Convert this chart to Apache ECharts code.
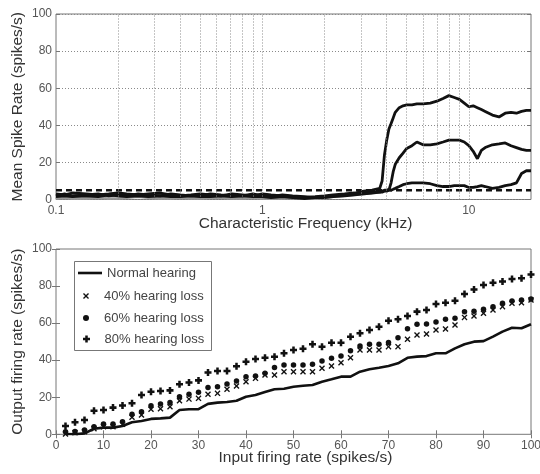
<!DOCTYPE html>
<html>
<head>
<meta charset="utf-8">
<script src="https://cdn.jsdelivr.net/npm/echarts@6/dist/echarts.min.js"></script>
<style>
  html, body { margin: 0; padding: 0; background: #fff; }
  #chart { width: 540px; height: 474px; }
</style>
</head>
<body>
<div id="chart"></div>
<script>
// ---- Upper panel: mean spike rate across characteristic frequency (kHz) ----
const cfFreq = [0.1, 0.11, 0.12, 0.14, 0.16, 0.18, 0.2, 0.22, 0.25, 0.28,
  0.32, 0.36, 0.4, 0.45, 0.5, 0.56, 0.63, 0.71, 0.8, 0.9,
  1.0, 1.1, 1.25, 1.4, 1.6, 1.8, 2.0, 2.2, 2.5, 2.8,
  3.1, 3.4, 3.7, 3.8, 3.9, 4.0, 4.1, 4.2, 4.3, 4.4,
  4.6, 4.8, 5.0, 5.3, 5.6, 6.0, 6.5, 7.0, 7.5, 8.0,
  8.5, 9.0, 9.5, 10, 10.5, 11, 11.5, 12, 13, 14,
  15, 16, 17, 18, 19, 20];

const rateHigh = [3, 2.5, 3.5, 3, 2.5, 3, 3.5, 3, 2.5, 3,
  3.5, 2.5, 2, 2.5, 3, 2.5, 2, 3, 2.5, 2,
  3, 2.5, 2, 1.5, 1, 1.5, 2, 2.5, 3, 3.5,
  4.5, 5, 6, 10, 24, 32, 38, 41, 44, 47,
  49.5, 50.5, 51, 51, 51.5, 51.5, 52, 53, 54.5, 56,
  55, 54, 52, 50, 50.5, 49.5, 48.5, 47.5, 45.5, 44.5,
  46.5, 47, 46.5, 47.5, 48, 48];

const rateMid = [2, 3, 2, 2.5, 3, 2, 2.5, 2, 3, 2.5,
  2, 3, 2.5, 2, 2, 3, 2.5, 2, 2, 3,
  2, 1.5, 2.5, 2, 1.5, 1, 1.5, 2, 2.5, 3,
  3.5, 4, 4, 4, 4.5, 4.5, 5, 9, 15, 19,
  22.5, 25, 27.5, 29, 31, 29.5, 29.5, 30, 31, 32,
  32, 32, 31, 29, 26, 22, 26.5, 28, 29.5, 30,
  30.5, 29, 28, 27, 26.5, 26.5];

const rateLow = [1.5, 2, 1.5, 2, 1.5, 2.5, 2, 1.5, 2, 1.5,
  2, 1.5, 1.5, 2, 1.5, 1.5, 2, 1.5, 2, 1.5,
  1.5, 1, 1.5, 1, 0.5, 1, 1, 1.5, 2, 2.5,
  3, 3.5, 4, 4.5, 5, 5, 5.5, 5, 5.5, 6,
  7, 8, 8.5, 9, 9, 9, 8.5, 7.5, 7, 7,
  7.5, 7.5, 7.5, 6.5, 6.5, 7, 7.5, 7, 6, 6.5,
  7.5, 8, 9, 14, 15.5, 15.5];

const rateGrey = [0.5, 1, 0.5, 0.5, 1, 0.5, 0.5, 1, 1.5, 1,
  0.5, 0.5, 1, 0.5, 0.5, 1, 1, 0.5, 0.5, 1,
  0.5, 0.5, 0.5, 1, 0.5, 0.5, 1, 1.5, 2, 2.5,
  3, 3.5];

const thresholdFreq = [0.1, 20];
const thresholdRate = [5, 5];

// dotted vertical grid at every decade subdivision
const gridFreqs = [0.2, 0.3, 0.4, 0.5, 0.6, 0.7, 0.8, 0.9, 1,
  2, 3, 4, 5, 6, 7, 8, 9, 10];

// ---- Lower panel: output vs input firing rate ----
const inputRate = [2, 4, 6, 8, 10, 12, 14, 16, 18, 20,
  22, 24, 26, 28, 30, 32, 34, 36, 38, 40,
  42, 44, 46, 48, 50, 52, 54, 56, 58, 60,
  62, 64, 66, 68, 70, 72, 74, 76, 78, 80,
  82, 84, 86, 88, 90, 92, 94, 96, 98, 100];

const normalOut = [0.2, 0, 0.5, 3, 3.6, 3.6, 4.5, 6.5, 7.2, 8.3,
  8.6, 9, 13.1, 13.5, 13.6, 16.4, 17.1, 17.4, 18.1, 20.3,
  21.2, 22.8, 24.3, 24.6, 25.7, 26.2, 26.6, 28.4, 29.7, 31.1,
  31.1, 33.8, 35.1, 35.9, 36.9, 38.3, 41.3, 41.9, 42.2, 43.7,
  43.7, 46.4, 48.6, 50, 50.3, 52.7, 55.4, 57.5, 57.2, 59.4];

const loss40Out = [0.2, 0.9, 1.4, 3, 4.1, 4.1, 5.4, 9.2, 10.4, 13.5,
  13.8, 14.9, 18.1, 19, 19.4, 21.6, 22.1, 24.3, 26.1, 28.4,
  30.2, 32, 32, 33.8, 33.8, 33.8, 33.8, 35.6, 36.9, 38.6,
  41.3, 45.5, 45.5, 45.5, 47.3, 47.3, 51.3, 53.6, 54.1, 56.3,
  56.8, 59, 63.1, 63.8, 65.3, 67.1, 68.9, 70.7, 71, 72.5];

const loss60Out = [1.4, 1.5, 2.3, 4.1, 5.6, 5.6, 6.8, 10.8, 12.2, 15.4,
  16.4, 17.1, 20.3, 21.6, 22.7, 25.2, 25.7, 27.1, 28.8, 31.1,
  31.5, 32.9, 36.1, 37.4, 37.4, 37.4, 37.8, 39.6, 41, 42.3,
  45.1, 47.6, 48.6, 48.6, 49.6, 52.1, 57, 59.4, 59.5, 60.6,
  62.1, 62.6, 66.2, 66.4, 67.5, 68.9, 70.7, 71.9, 72.5, 73];

const loss80Out = [4.5, 6.5, 7.7, 12.7, 13.1, 14.4, 15.6, 16.7, 21.2, 23,
  23.4, 23.7, 27, 27.9, 29.1, 33.4, 34.2, 34.2, 36.7, 39.2,
  40.6, 41.3, 41.9, 43.7, 45.5, 46.2, 48.6, 47.3, 49.4, 49.4,
  52.7, 54.5, 56.3, 58.1, 61.3, 62.1, 63.8, 66.2, 67.1, 70.3,
  71, 72.1, 75.7, 78.2, 80.6, 81.8, 82.4, 83.8, 84.2, 86.3];

const seriesNames = ['Normal hearing', '40% hearing loss', '60% hearing loss', '80% hearing loss'];

// ---- styling ----
const FONT = 'Liberation Sans, Arial, Helvetica, sans-serif';
const INK = '#111';
const TICK_TEXT = '#555';
const TITLE_TEXT = '#333';
const FRAME = '#777';

const SYMBOL_X = 'path://M0,1.6L1.6,0L5,3.4L8.4,0L10,1.6L6.6,5L10,8.4L8.4,10L5,6.6L1.6,10L0,8.4L3.4,5Z';
const SYMBOL_PLUS = 'path://M3.2,0H6.8V3.2H10V6.8H6.8V10H3.2V6.8H0V3.2H3.2Z';

function pairs(xs, ys) {
  const out = [];
  for (let i = 0; i < ys.length; i++) out.push([xs[i], ys[i]]);
  return out;
}

const tickLabel = { fontFamily: FONT, fontSize: 12, color: TICK_TEXT };
const nameStyle = { fontFamily: FONT, fontSize: 15.5, color: TITLE_TEXT };
const xNameStyle = Object.assign({}, nameStyle, { padding: [0, 0, 0, 24] });
const legendText = { fontFamily: FONT, fontSize: 13, color: '#444', lineHeight: 14 };

function mirrorY(gridIndex) {
  return {
    gridIndex, type: 'value', position: 'right', min: 0, max: 100, interval: 20,
    axisLine: { show: false }, axisLabel: { show: false }, splitLine: { show: false },
    axisTick: { show: true, inside: true, length: 4, lineStyle: { color: FRAME } }
  };
}

const chart = echarts.init(document.getElementById('chart'), null, { renderer: 'canvas' });

const option = {
  animation: false,
  backgroundColor: '#fff',
  grid: [
    { left: 56, top: 14, right: 9, height: 185.5, outerBoundsMode: 'none', containLabel: false,
      show: true, borderColor: FRAME, borderWidth: 1, backgroundColor: 'transparent' },
    { left: 56, top: 249, right: 9, height: 185.3, outerBoundsMode: 'none', containLabel: false,
      show: true, borderColor: FRAME, borderWidth: 1, backgroundColor: 'transparent' }
  ],
  xAxis: [
    {
      gridIndex: 0, type: 'log', logBase: 10, min: 0.1, max: 20,
      axisLine: { show: false }, axisTick: { show: false }, splitLine: { show: false },
      axisLabel: Object.assign({}, tickLabel, {
        margin: 5,
        formatter: function (v) {
          const e = Math.log10(v);
          if (Math.abs(e - Math.round(e)) > 1e-6) return '';
          const r = Math.round(e);
          return r === -1 ? '0.1' : r === 0 ? '1' : r === 1 ? '10' : '';
        }
      }),
      name: 'Characteristic Frequency (kHz)', nameLocation: 'middle', nameGap: 16,
      nameMoveOverlap: false, nameTextStyle: xNameStyle
    },
    {
      gridIndex: 1, type: 'value', min: 0, max: 100, interval: 10,
      axisLine: { show: false }, splitLine: { show: false },
      axisTick: { show: true, inside: true, length: 4, lineStyle: { color: FRAME } },
      axisLabel: Object.assign({}, tickLabel, { margin: 5 }),
      name: 'Input firing rate (spikes/s)', nameLocation: 'middle', nameGap: 15.5,
      nameMoveOverlap: false, nameTextStyle: xNameStyle
    },
    {
      gridIndex: 1, type: 'value', position: 'top', min: 0, max: 100, interval: 10,
      axisLine: { show: false }, axisLabel: { show: false }, splitLine: { show: false },
      axisTick: { show: true, inside: true, length: 4, lineStyle: { color: FRAME } }
    }
  ],
  yAxis: [
    {
      gridIndex: 0, type: 'value', min: 0, max: 100, interval: 20,
      axisLine: { show: false },
      axisTick: { show: true, inside: true, length: 4, lineStyle: { color: FRAME } },
      splitLine: { show: true, lineStyle: { type: [1, 2], color: '#8a8a8a', width: 1 } },
      axisLabel: Object.assign({}, tickLabel, { margin: 4 }),
      name: 'Mean Spike Rate (spikes/s)', nameLocation: 'middle', nameGap: 30,
      nameMoveOverlap: false, nameTextStyle: nameStyle
    },
    mirrorY(0),
    {
      gridIndex: 1, type: 'value', min: 0, max: 100, interval: 20,
      axisLine: { show: false }, splitLine: { show: false },
      axisTick: { show: true, inside: true, length: 4, lineStyle: { color: FRAME } },
      axisLabel: Object.assign({}, tickLabel, { margin: 4 }),
      name: 'Output firing rate (spikes/s)', nameLocation: 'middle', nameGap: 30,
      nameMoveOverlap: false, nameTextStyle: nameStyle
    },
    mirrorY(1)
  ],
  graphic: [
    {
      type: 'rect', left: 74, top: 261, z: 5,
      shape: { width: 137, height: 89 },
      style: { fill: '#fff', stroke: FRAME, lineWidth: 1 }
    }
  ],
  legend: [
    {
      data: [{ name: seriesNames[0], icon: 'rect' }], left: 78, top: 266, padding: 0, z: 10,
      itemWidth: 24, itemHeight: 2.6, textStyle: legendText
    },
    {
      data: [seriesNames[1]], left: 83, top: 289, padding: 0, z: 10,
      itemWidth: 26, itemHeight: 6, textStyle: legendText
    },
    {
      data: [seriesNames[2]], left: 83, top: 311, padding: 0, z: 10,
      itemWidth: 26, itemHeight: 6, textStyle: legendText
    },
    {
      data: [seriesNames[3]], left: 83, top: 332, padding: 0, z: 10,
      itemWidth: 26, itemHeight: 7, textStyle: legendText
    }
  ],
  series: [
    // upper panel
    {
      type: 'line', xAxisIndex: 0, yAxisIndex: 0, z: 1,
      data: pairs(thresholdFreq, thresholdRate),
      showSymbol: false, symbol: 'none', silent: true,
      lineStyle: { color: INK, width: 2.5, type: [6, 4] },
      markLine: {
        silent: true, symbol: ['none', 'none'], label: { show: false },
        lineStyle: { type: [1, 2], color: '#8a8a8a', width: 1 },
        data: gridFreqs.map(f => ({ xAxis: f }))
      }
    },
    {
      type: 'line', xAxisIndex: 0, yAxisIndex: 0, z: 2,
      data: pairs(cfFreq, rateGrey), showSymbol: false, symbol: 'none', silent: true,
      lineStyle: { color: '#9a9a9a', width: 2.5 }
    },
    {
      type: 'line', xAxisIndex: 0, yAxisIndex: 0, z: 3,
      data: pairs(cfFreq, rateLow), showSymbol: false, symbol: 'none', silent: true,
      lineStyle: { color: INK, width: 2.8 }
    },
    {
      type: 'line', xAxisIndex: 0, yAxisIndex: 0, z: 3,
      data: pairs(cfFreq, rateMid), showSymbol: false, symbol: 'none', silent: true,
      lineStyle: { color: INK, width: 2.8 }
    },
    {
      type: 'line', xAxisIndex: 0, yAxisIndex: 0, z: 3,
      data: pairs(cfFreq, rateHigh), showSymbol: false, symbol: 'none', silent: true,
      lineStyle: { color: INK, width: 2.8 }
    },
    // lower panel
    {
      name: seriesNames[0], type: 'line', xAxisIndex: 1, yAxisIndex: 2,
      data: pairs(inputRate, normalOut), showSymbol: false, symbol: 'none',
      lineStyle: { color: INK, width: 2.6 }, itemStyle: { color: INK }
    },
    {
      name: seriesNames[1], type: 'scatter', xAxisIndex: 1, yAxisIndex: 2,
      data: pairs(inputRate, loss40Out), symbol: SYMBOL_X, symbolSize: 6,
      itemStyle: { color: INK, opacity: 1 }
    },
    {
      name: seriesNames[2], type: 'scatter', xAxisIndex: 1, yAxisIndex: 2,
      data: pairs(inputRate, loss60Out), symbol: 'circle', symbolSize: 5.5,
      itemStyle: { color: INK, opacity: 1 }
    },
    {
      name: seriesNames[3], type: 'scatter', xAxisIndex: 1, yAxisIndex: 2,
      data: pairs(inputRate, loss80Out), symbol: SYMBOL_PLUS, symbolSize: 7,
      itemStyle: { color: INK, opacity: 1 }
    }
  ]
};

chart.setOption(option);
</script>
</body>
</html>
